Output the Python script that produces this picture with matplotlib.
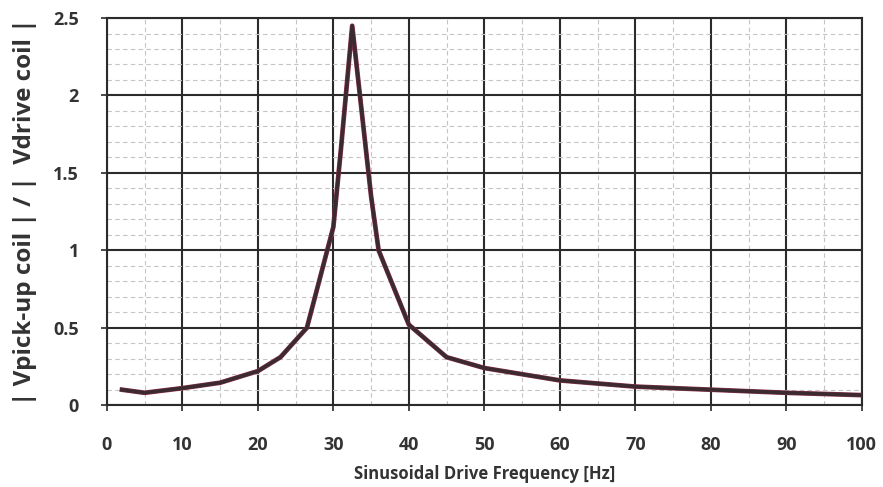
import numpy as np
import matplotlib.pyplot as plt
from matplotlib.ticker import MultipleLocator

# Data
freq_hz = [2, 5, 10, 15, 20, 23, 26.5, 30, 31, 32.5, 35, 36, 40, 45, 50, 60, 70, 80, 90, 100]
ratio = [0.10, 0.08, 0.11, 0.145, 0.22, 0.31, 0.50, 1.15, 1.65, 2.45, 1.35, 1.0, 0.52, 0.31, 0.24,
         0.16, 0.12, 0.10, 0.08, 0.065]

x_ticks = list(range(0, 101, 10))
y_ticks = [0, 0.5, 1, 1.5, 2, 2.5]
y_tick_labels = ['0', '0.5', '1', '1.5', '2', '2.5']

plt.rcParams['font.family'] = ['Open Sans', 'DejaVu Sans']

fig = plt.figure(figsize=(8.83, 4.87), dpi=100)
ax = fig.add_axes([0.121, 0.168, 0.855, 0.795])

# red underlay then dark line for the reddish tint
ax.plot(freq_hz, ratio, color='#8a3048', linewidth=3.4, solid_joinstyle='round', zorder=3)
ax.plot(freq_hz, ratio, color='#2e2a2c', linewidth=2.6, alpha=0.85, solid_joinstyle='round', zorder=4)

ax.set_xlim(0, 100)
ax.set_ylim(0, 2.5)
ax.set_xticks(x_ticks)
ax.set_yticks(y_ticks)
ax.set_yticklabels(y_tick_labels)
ax.xaxis.set_minor_locator(MultipleLocator(5))
ax.yaxis.set_minor_locator(MultipleLocator(0.1))

ax.grid(which='major', color='#2b2b2b', linewidth=1.5)
ax.grid(which='minor', color='#c4c4c4', linestyle=(0, (4, 3)), linewidth=0.8)
ax.set_axisbelow(True)

for s in ax.spines.values():
    s.set_color('#2b2b2b')
    s.set_linewidth(1.5)

ax.tick_params(which='major', length=4, width=1.2, color='#2b2b2b', pad=18,
               labelsize=13, labelcolor='#333333')
ax.tick_params(which='minor', length=0)
for lab in ax.get_xticklabels() + ax.get_yticklabels():
    lab.set_fontweight('bold')
ax.tick_params(axis='y', pad=16)

ax.set_xlabel('Sinusoidal Drive Frequency [Hz]', fontsize=12, fontweight='bold',
              color='#333333', labelpad=8)
ax.set_ylabel('| Vpick-up coil | / |  Vdrive coil |', fontsize=17.5, fontweight='bold',
              color='#333333', labelpad=12)

fig.savefig('out.png', dpi=100)
